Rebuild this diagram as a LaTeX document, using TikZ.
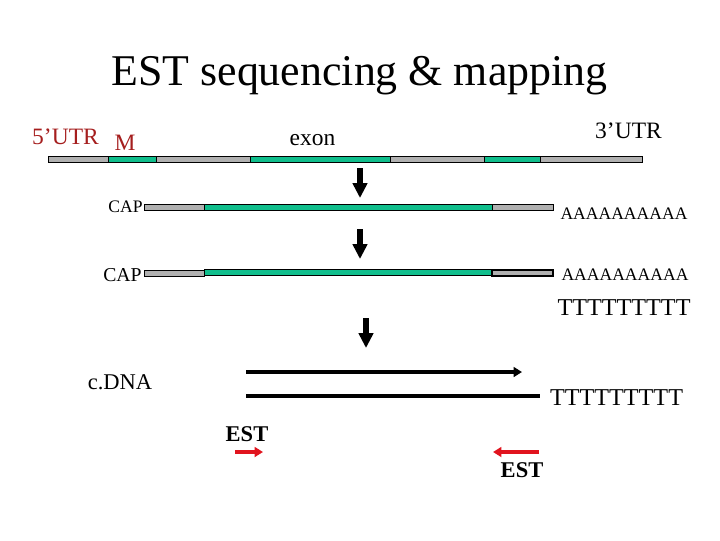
\documentclass[tikz,border=0pt]{standalone}
\usepackage{fontspec}
\setmainfont{Liberation Serif}
\usetikzlibrary{arrows.meta}
\definecolor{exongreen}{RGB}{16,190,140}
\definecolor{utrgrey}{RGB}{176,176,176}
\definecolor{utrred}{RGB}{165,30,30}
\definecolor{estred}{RGB}{225,20,30}
\tikzset{
	utr/.style={draw=black,fill=utrgrey,line width=0.7pt},
	exon/.style={draw=black,fill=exongreen,line width=0.7pt},
	label/.style={inner sep=0pt,font=\fontsize{16.7}{17}\selectfont},
	step arrow/.style={-{Triangle[length=10.5pt,width=10pt]},line width=3.6pt},
	est arrow/.style={-{Triangle[length=6pt,width=7pt]},estred,line width=2.2pt},
}
\begin{document}
\begin{tikzpicture}[x=0.025cm,y=-0.025cm]
	\useasboundingbox (0,0) rectangle (720,540);
	\node[inner sep=0pt,font=\fontsize{31.2}{32}\selectfont] (title) at (359.5,76) {EST sequencing \& mapping};
	\node[label,text=utrred] (utr5) at (65.5,137) {5’UTR};
	\node[label,text=utrred] (met) at (125,143) {M};
	\node[label] (exonlabel) at (312.5,140) {exon};
	\node[label] (utr3) at (628.5,131) {3’UTR};
	% gene
	\foreach \a/\b in {48/108,156/250,390/484,540/642}
		\draw[utr] (\a,156.5) rectangle (\b,162.5);
	\foreach \a/\b in {108/156,250/390,484/540}
		\draw[exon] (\a,156.5) rectangle (\b,162.5);
	% mRNA
	\node[label,font=\fontsize{12.5}{13}\selectfont] (cap1) at (125.5,207) {CAP};
	\draw[utr] (144,204) rectangle (204,210);
	\draw[exon] (204,204) rectangle (492,210);
	\draw[utr] (492,204) rectangle (553,210);
	\node[label,font=\fontsize{12.5}{13}\selectfont] (polyA1) at (624,214) {AAAAAAAAAA};
	% mature mRNA
	\node[label,font=\fontsize{14}{14}\selectfont] (cap2) at (122.5,275) {CAP};
	\draw[utr] (144,270) rectangle (204,276);
	\draw[exon] (204,269.5) rectangle (492,275.5);
	\draw[utr,line width=1pt] (492,270) rectangle (553,276);
	\node[label,font=\fontsize{12.5}{13}\selectfont] (polyA2) at (625,275) {AAAAAAAAAA};
	\node[label,font=\fontsize{17.2}{17}\selectfont] (polyT1) at (624,308) {TTTTTTTTT};
	% steps
	\draw[step arrow] (360,168)coordinate (S1)--(360,198)coordinate (E1);
	\draw[step arrow] (360,229)coordinate (S2)--(360,259)coordinate (E2);
	\draw[step arrow] (366,318)coordinate (S3)--(366,348)coordinate (E3);
	% cDNA
	\node[label,font=\fontsize{16}{16}\selectfont] (cdna) at (120,382) {c.DNA};
	\draw[-{Triangle[length=6pt,width=7pt]},line width=2.7pt] (246,372)coordinate (A)--(522,372)coordinate (B);
	\draw[line width=2.7pt] (246,396)coordinate (C)--(540,396)coordinate (D);
	\node[label,font=\fontsize{17.2}{17}\selectfont] (polyT2) at (616.5,398) {TTTTTTTTT};
	% ESTs
	\node[label,font=\bfseries\fontsize{16}{16}\selectfont] (est1) at (247,434) {EST};
	\draw[est arrow] (235,452)coordinate (F)--(263,452)coordinate (G);
	\draw[est arrow] (539,452)coordinate (H)--(493,452)coordinate (I);
	\node[label,font=\bfseries\fontsize{16}{16}\selectfont] (est2) at (522,470) {EST};
\end{tikzpicture}
\end{document}
